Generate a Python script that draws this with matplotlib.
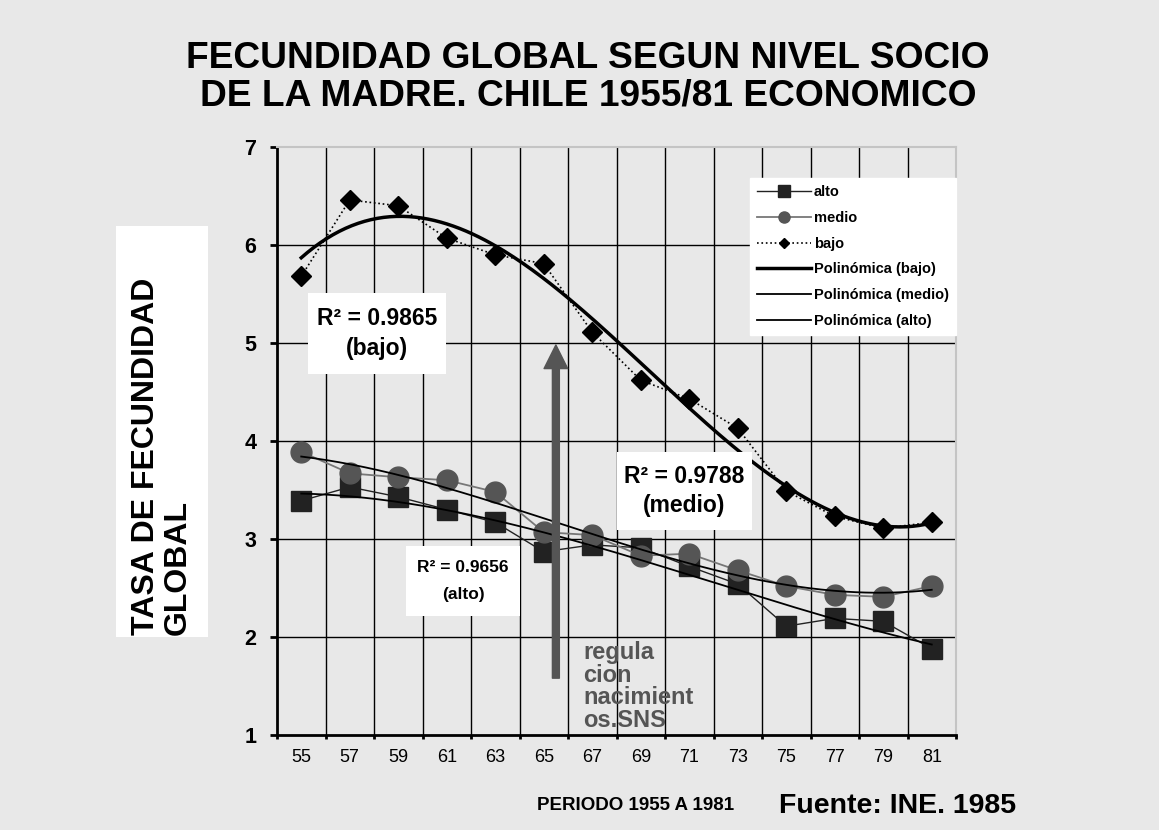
import matplotlib
matplotlib.use('Agg')
import matplotlib.pyplot as plt
from matplotlib.patches import Rectangle
import numpy as np

plt.rcParams['font.family'] = ['Liberation Sans', 'DejaVu Sans']

# data
years = ['55', '57', '59', '61', '63', '65', '67', '69', '71', '73', '75', '77', '79', '81']
bajo = [5.68, 6.46, 6.40, 6.07, 5.90, 5.81, 5.11, 4.62, 4.43, 4.13, 3.49, 3.23, 3.11, 3.17]
medio = [3.89, 3.67, 3.63, 3.60, 3.48, 3.07, 3.04, 2.83, 2.85, 2.68, 2.52, 2.43, 2.41, 2.52]
alto = [3.39, 3.53, 3.43, 3.30, 3.17, 2.87, 2.94, 2.91, 2.72, 2.54, 2.11, 2.19, 2.16, 1.88]
poly_degree = 3

BG = '#e8e8e8'
W, H = 1159, 830

fig = plt.figure(figsize=(W / 100, H / 100), dpi=100, facecolor=BG)
ax = fig.add_axes([277 / W, 1 - 735 / H, (956 - 277) / W, (735 - 147) / H])
ax.set_facecolor(BG)

x = np.arange(len(years))
ax.set_xlim(-0.5, len(years) - 0.5)
ax.set_ylim(1, 7)

# grid lines
for b in np.arange(0.5, len(years) - 0.5):
    ax.axvline(b, color='black', lw=1.0, zorder=1)
for v in range(2, 7):
    ax.axhline(v, color='black', lw=1.0, zorder=1)

# series
ax.plot(x, alto, '-', marker='s', ms=14, color='#222222', lw=1.0, label='alto', zorder=3)
ax.plot(x, medio, '-', marker='o', ms=15, color='#777777', mfc='#555555', mec='#555555',
        lw=1.3, label='medio', zorder=3)
ax.plot(x, bajo, ':', marker='D', ms=10, color='black', lw=1.2, label='bajo', zorder=3)

# polynomial trend lines
xf = np.linspace(x[0], x[-1], 200)
for vals, lw, name in [(bajo, 2.5, 'bajo'), (medio, 1.3, 'medio'), (alto, 1.3, 'alto')]:
    coef = np.polyfit(x, vals, poly_degree)
    ax.plot(xf, np.polyval(coef, xf), color='black', lw=lw,
            label='Polinómica (%s)' % name, zorder=4)

# axes styling
ax.set_yticks(range(1, 8))
ax.set_yticklabels([str(v) for v in range(1, 8)], fontsize=15.5, fontweight='bold')
ax.tick_params(axis='y', length=5, width=2, pad=10, direction='out')
ax.set_xticks(x)
ax.set_xticklabels(years, fontsize=13)
ax.set_xticks(np.arange(-0.5, len(years)), minor=True)
ax.tick_params(axis='x', which='major', length=0, pad=10)
ax.tick_params(axis='x', which='minor', length=3, width=2, direction='out')
for s in ['left', 'bottom']:
    ax.spines[s].set_linewidth(2)
    ax.spines[s].set_color('black')
for s in ['top', 'right']:
    ax.spines[s].set_linewidth(1.5)
    ax.spines[s].set_color('#c4c4c4')

# legend
leg = ax.legend(loc='upper right', bbox_to_anchor=(1.0, 0.947), borderaxespad=0,
                prop={'weight': 'bold', 'size': 10.5}, frameon=True, fancybox=False,
                facecolor='white', edgecolor='white', framealpha=1, numpoints=1,
                handlelength=3.7, handletextpad=0.2, labelspacing=0.8, borderpad=0.5)
leg.set_zorder(7)
for h, ms in zip(leg.legend_handles[:3], [8, 8, 5]):
    h.set_markersize(ms)

# R^2 boxes
boxes = [
    ((0.139, 4.684), 2.85, 0.826, (1.562, 5.097), 'R² = 0.9865\n(bajo)', 16.5, 1.38),
    ((6.510, 3.092), 2.784, 0.796, (7.902, 3.490), 'R² = 0.9788\n(medio)', 16.5, 1.38),
    ((2.160, 2.214), 2.35, 0.715, (3.335, 2.571), 'R² = 0.9656\n(alto)', 12.5, 2.0),
]
for (x0, y0), w, h, (tx, ty), txt, fs, ls in boxes:
    ax.add_patch(Rectangle((x0, y0), w, h, facecolor='white', edgecolor='none', zorder=5))
    ax.text(tx, ty, txt, ha='center', va='center', fontsize=fs, fontweight='bold',
            linespacing=ls, zorder=6)

# arrow and note
ax.annotate('', xy=(5.25, 4.98), xytext=(5.25, 1.58),
            arrowprops=dict(facecolor='#555555', edgecolor='#555555', width=5,
                            headwidth=17, headlength=17, shrink=0), zorder=6)
ax.text(5.81, 1.96, 'regula\ncion\nnacimient\nos.SNS', color='#555555', fontsize=17,
        fontweight='bold', ha='left', va='top', linespacing=0.98, zorder=6)

# y label in white box
fig.add_artist(Rectangle((116 / W, 1 - 637 / H), 92 / W, 411 / H, transform=fig.transFigure,
                         facecolor='white', edgecolor='none'))
fig.text(162 / W, 1 - 635 / H, 'TASA DE FECUNDIDAD\nGLOBAL', rotation=90, ha='center',
         va='bottom', fontsize=23, fontweight='bold', multialignment='left', linespacing=1.1)

# titles
fig.text(588 / W, 1 - 68.3 / H, 'FECUNDIDAD GLOBAL SEGUN NIVEL SOCIO', ha='center',
         va='baseline', fontsize=26.7, fontweight='bold')
fig.text(588 / W, 1 - 105 / H, 'DE LA MADRE. CHILE 1955/81 ECONOMICO', ha='center',
         va='baseline', fontsize=26.7, fontweight='bold')
fig.text(636 / W, 1 - 810 / H, 'PERIODO 1955 A 1981', ha='center', va='baseline',
         fontsize=13.5, fontweight='bold')
fig.text(779 / W, 1 - 813 / H, 'Fuente: INE. 1985', ha='left', va='baseline',
         fontsize=20.5, fontweight='bold')

fig.savefig('out.png', dpi=100, facecolor=BG)
